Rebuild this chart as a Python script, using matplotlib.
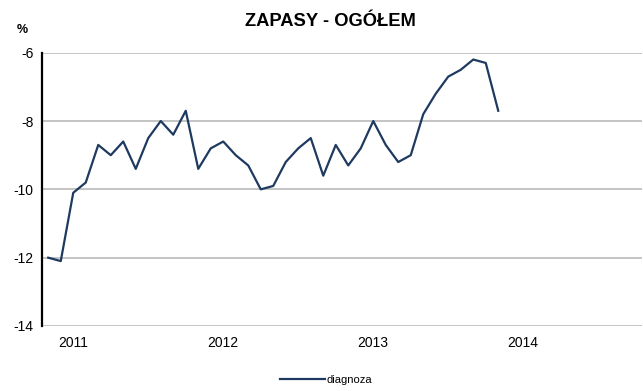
import matplotlib.pyplot as plt

plt.rcParams['font.family'] = ['Liberation Sans', 'DejaVu Sans']

# monthly index values, Nov 2010 - Nov 2013
diagnoza = [-12.0, -12.1, -10.1, -9.8, -8.7, -9.0, -8.6, -9.4, -8.5, -8.0,
            -8.4, -7.7, -9.4, -8.8, -8.6, -9.0, -9.3, -10.0, -9.9, -9.2,
            -8.8, -8.5, -9.6, -8.7, -9.3, -8.8, -8.0, -8.7, -9.2, -9.0,
            -7.8, -7.2, -6.7, -6.5, -6.2, -6.3, -7.7]
years = ['2011', '2012', '2013', '2014']
year_pos = [2, 14, 26, 38]
yticks = [-14, -12, -10, -8, -6]

fig = plt.figure(figsize=(6.43, 3.91), dpi=100)
ax = fig.add_axes([42/643, 65/391, 600/643, 273.3/391])

line_color = '#1f3a60'
ax.plot(range(len(diagnoza)), diagnoza, color=line_color, lw=1.6, label='diagnoza')

ax.set_xlim(-0.5, 47.5)
ax.set_ylim(-14, -6)
ax.set_yticks(yticks)
ax.set_yticklabels([str(v) for v in yticks], fontsize=10)
ax.set_xticks(year_pos)
ax.set_xticklabels(years, fontsize=10)
ax.tick_params(length=0, pad=7)
ax.tick_params(axis='y', pad=6)

for v in yticks:
    ax.axhline(v, color='#c4c4c4', lw=1.4, zorder=0)

for s in ['top', 'right', 'bottom']:
    ax.spines[s].set_visible(False)
ax.spines['left'].set_color('black')
ax.spines['left'].set_linewidth(1.6)

fig.text(330.5/643, 1 - 21/391, 'ZAPASY - OGÓŁEM', ha='center', va='center',
         fontsize=13.2, fontweight='bold')
fig.text(22.5/643, 1 - 30/391, '%', ha='center', va='center',
         fontsize=9, fontweight='bold')

fig.legend(loc='center', bbox_to_anchor=(326/643, 1 - 380/391), frameon=False,
           fontsize=8, handlelength=4.0, handletextpad=0.15)

fig.savefig('out.png', dpi=100)
